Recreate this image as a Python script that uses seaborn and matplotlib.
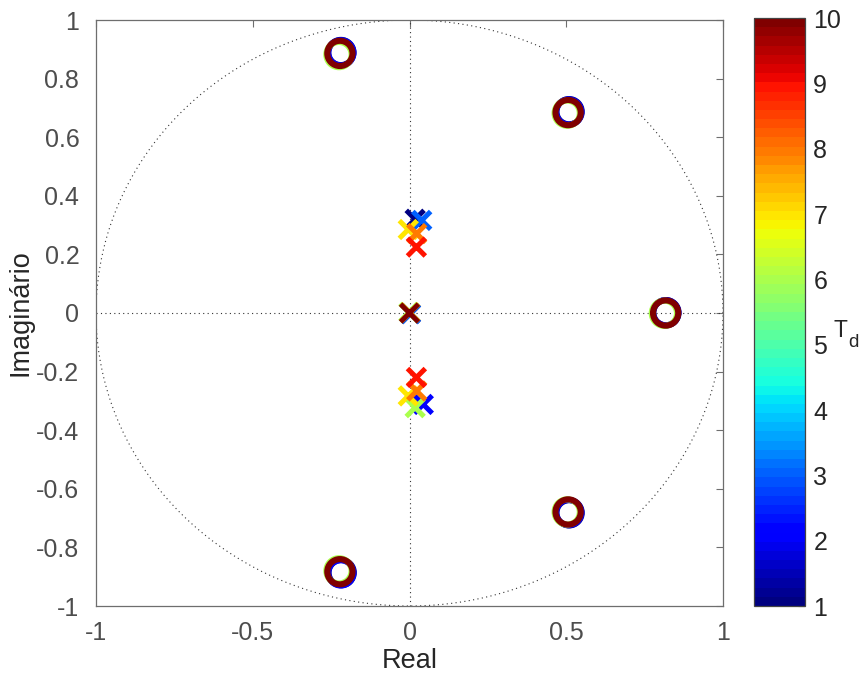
import numpy as np
import pandas as pd
import matplotlib
matplotlib.use("Agg")
import matplotlib.pyplot as plt
import matplotlib.colors as mcolors
import seaborn as sns

# ---- data ----
# zeros (circles): one set of five zeros per Td value shown
zero_td = [1, 1, 1, 1, 1, 2, 2, 2, 2, 2, 6, 6, 6, 6, 6, 10, 10, 10, 10, 10]
zero_re = [-0.219, 0.509, 0.818, 0.509, -0.218,
           -0.219, 0.508, 0.817, 0.508, -0.219,
           -0.225, 0.503, 0.813, 0.503, -0.225,
           -0.222, 0.506, 0.817, 0.506, -0.222]
zero_im = [0.889, 0.687, 0.001, -0.682, -0.886,
           0.888, 0.686, 0.001, -0.681, -0.887,
           0.882, 0.682, -0.001, -0.679, -0.880,
           0.886, 0.684, 0.000, -0.679, -0.883]

# poles (crosses)
pole_td = [1, 3, 7, 8, 9,
           2, 6, 7, 8, 9,
           1, 3, 6, 7, 10]
pole_re = [0.018, 0.039, -0.004, 0.023, 0.022,
           0.044, 0.018, -0.004, 0.023, 0.022,
           0.003, 0.003, -0.002, 0.001, 0.000]
pole_im = [0.320, 0.316, 0.285, 0.271, 0.225,
           -0.312, -0.323, -0.283, -0.266, -0.220,
           -0.002, -0.002, 0.002, 0.001, 0.000]

td_min, td_max = 1, 10
x_ticks = [-1, -0.5, 0, 0.5, 1]
y_ticks = [-1, -0.8, -0.6, -0.4, -0.2, 0, 0.2, 0.4, 0.6, 0.8, 1]
cbar_ticks = [1, 2, 3, 4, 5, 6, 7, 8, 9, 10]

zeros_df = pd.DataFrame({"re": zero_re, "im": zero_im, "Td": zero_td}).sort_values("Td", kind="stable")
poles_df = pd.DataFrame({"re": pole_re, "im": pole_im, "Td": pole_td}).sort_values("Td", kind="stable")

# ---- style ----
sns.set_style("white")
plt.rcParams["font.family"] = ["Liberation Sans", "DejaVu Sans"]
tick_color = "#4d4d4d"
spine_color = "#6e6e6e"

cmap = mcolors.ListedColormap(plt.cm.jet(np.linspace(0, 1, 64)))
norm = mcolors.Normalize(vmin=td_min, vmax=td_max)

fig = plt.figure(figsize=(8.61, 6.81), dpi=100)
ax = fig.add_axes([96 / 861, 75 / 681, (723 - 96) / 861, (606 - 20) / 681])
cax = fig.add_axes([754 / 861, 75 / 681, (805 - 754) / 861, (606 - 18) / 681])

# reference lines: unit circle and axes
theta = np.linspace(0, 2 * np.pi, 400)
ax.plot(np.cos(theta), np.sin(theta), ls=(0, (1, 3)), color="#333333", lw=0.8, zorder=1)
ax.axhline(0, ls=(0, (1, 3)), color="#333333", lw=0.8, zorder=1)
ax.axvline(0, ls=(0, (1, 3)), color="#333333", lw=0.8, zorder=1)

# poles
sns.scatterplot(data=poles_df, x="re", y="im", hue="Td", palette=cmap, hue_norm=norm,
                marker="x", s=165, linewidth=3.6, legend=False, ax=ax, zorder=3)
coll = ax.collections[-1]
coll.set_edgecolors(coll.get_facecolors())

# zeros
sns.scatterplot(data=zeros_df, x="re", y="im", hue="Td", palette=cmap, hue_norm=norm,
                marker="o", s=330, linewidth=4.4, legend=False, ax=ax, zorder=4)
coll = ax.collections[-1]
fc = coll.get_facecolors()
coll.set_edgecolors(fc)
coll.set_facecolors("none")

ax.set_xlim(-1, 1)
ax.set_ylim(-1, 1)
ax.set_xticks(x_ticks)
ax.set_xticklabels([f"{v:g}" for v in x_ticks])
ax.set_yticks(y_ticks)
ax.set_yticklabels([f"{v:g}" for v in y_ticks])
ax.tick_params(direction="in", length=5, width=0.8, colors=spine_color,
               labelcolor=tick_color, labelsize=18, top=True, right=True)
ax.tick_params(axis="y", pad=12)
ax.tick_params(axis="x", pad=11)
for sp in ax.spines.values():
    sp.set_color(spine_color)
    sp.set_linewidth(0.9)
ax.set_xlabel("Real", fontsize=19.5, color="#262626")
ax.set_ylabel("Imaginário", fontsize=19.5, color="#262626")
ax.xaxis.set_label_coords(0.5, -0.072)
ax.yaxis.set_label_coords(-0.100, 0.5)

# colorbar
sm = plt.cm.ScalarMappable(cmap=cmap, norm=norm)
cb = fig.colorbar(sm, cax=cax, ticks=cbar_ticks)
cb.outline.set_edgecolor("#444444")
cb.outline.set_linewidth(0.9)
cax.tick_params(direction="in", length=5, width=0.8, colors="#444444",
                labelcolor="#262626", labelsize=18, pad=6)
cax.text(1.55, 0.488, "T", transform=cax.transAxes, fontsize=16.5,
         color="#262626", ha="left", va="top")
cax.text(1.85, 0.440, "d", transform=cax.transAxes, fontsize=13.5,
         color="#262626", ha="left", va="baseline")

fig.savefig("out.png", dpi=100, facecolor="white")
